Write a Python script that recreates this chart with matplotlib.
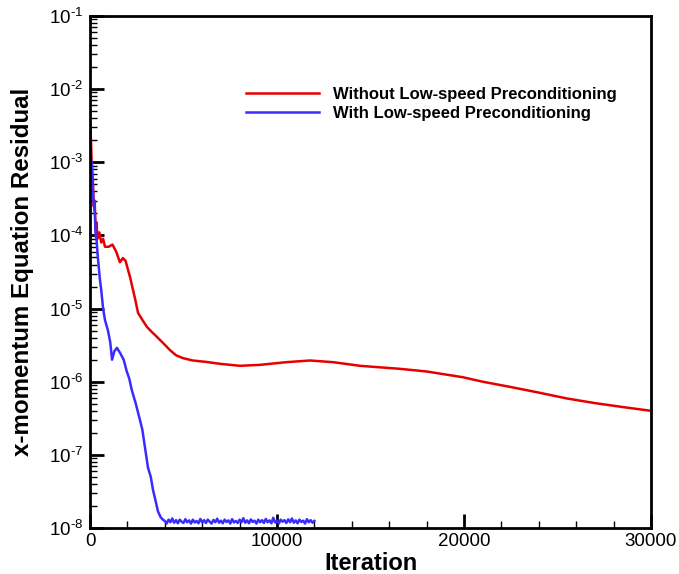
import math
import matplotlib
matplotlib.use("Agg")
import matplotlib.pyplot as plt
from matplotlib.ticker import FixedLocator, LogLocator, NullFormatter, FuncFormatter

plt.rcParams['font.family'] = ['Liberation Sans', 'DejaVu Sans']
plt.rcParams['mathtext.fontset'] = 'custom'
plt.rcParams['mathtext.rm'] = 'Liberation Sans'
plt.rcParams['mathtext.it'] = 'Liberation Sans'
plt.rcParams['mathtext.bf'] = 'Liberation Sans:bold'

# ---- data ----
red_iter = [0, 50, 100, 150, 200, 250, 300, 350, 400, 500, 600, 700, 800, 1000, 1200,
            1400, 1600, 1760, 1900, 2140, 2400, 2570, 2800, 3050, 3300, 3580, 4000,
            4280, 4600, 4970, 5500, 6250, 7000, 8020, 9090, 10500, 11760, 13000,
            14440, 16570, 18000, 19950, 21000, 22460, 24000, 25500, 27000, 28500, 30000]
red_res = [3.8e-3, 2.0e-3, 8.0e-4, 6.0e-4, 2.5e-4, 3.0e-4, 1.2e-4, 1.5e-4, 9.0e-5,
           1.1e-4, 8.0e-5, 9.0e-5, 7.0e-5, 7.0e-5, 7.5e-5, 6.0e-5, 4.3e-5, 4.9e-5,
           4.5e-5, 2.7e-5, 1.4e-5, 8.7e-6, 7.0e-6, 5.6e-6, 4.8e-6, 4.1e-6, 3.2e-6,
           2.7e-6, 2.3e-6, 2.1e-6, 1.95e-6, 1.86e-6, 1.75e-6, 1.65e-6, 1.7e-6,
           1.85e-6, 1.95e-6, 1.85e-6, 1.65e-6, 1.5e-6, 1.38e-6, 1.15e-6, 1.0e-6,
           8.5e-7, 7.1e-7, 5.9e-7, 5.1e-7, 4.5e-7, 4.0e-7]

blue_iter_drop = [0, 100, 180, 260, 300, 350, 420, 530, 600, 700, 800, 960, 1080, 1180,
                  1300, 1440, 1600, 1800, 1960, 2100, 2240, 2450, 2670, 2800, 2940,
                  3100, 3250, 3370, 3500, 3630, 3780, 3900]
blue_res_drop = [9.0e-4, 1.0e-3, 3.0e-4, 2.0e-4, 1.0e-4, 8.7e-5, 5.0e-5, 2.5e-5, 1.8e-5,
                 1.0e-5, 7.0e-6, 5.0e-6, 3.5e-6, 2.0e-6, 2.6e-6, 2.9e-6, 2.5e-6, 2.0e-6,
                 1.4e-6, 1.1e-6, 7.6e-7, 5.0e-7, 3.0e-7, 2.2e-7, 1.26e-7, 6.7e-8, 5.0e-8,
                 3.3e-8, 2.4e-8, 1.7e-8, 1.4e-8, 1.3e-8]
# noise floor, every 100 iterations from 4000 to 12000
blue_floor_start = 4000
blue_floor_step = 100
blue_floor = [1.25e-8, 1.15e-8, 1.3e-8, 1.2e-8, 1.35e-8, 1.18e-8, 1.28e-8, 1.16e-8, 1.3e-8, 1.22e-8,
              1.17e-8, 1.32e-8, 1.2e-8, 1.27e-8, 1.15e-8, 1.3e-8, 1.19e-8, 1.25e-8, 1.16e-8, 1.33e-8,
              1.2e-8, 1.28e-8, 1.17e-8, 1.3e-8, 1.22e-8, 1.15e-8, 1.29e-8, 1.2e-8, 1.34e-8, 1.18e-8,
              1.26e-8, 1.16e-8, 1.3e-8, 1.21e-8, 1.27e-8, 1.15e-8, 1.32e-8, 1.19e-8, 1.25e-8, 1.17e-8,
              1.3e-8, 1.2e-8, 1.36e-8, 1.18e-8, 1.27e-8, 1.16e-8, 1.31e-8, 1.21e-8, 1.26e-8, 1.15e-8,
              1.3e-8, 1.2e-8, 1.28e-8, 1.17e-8, 1.33e-8, 1.2e-8, 1.27e-8, 1.16e-8, 1.38e-8, 1.19e-8,
              1.26e-8, 1.15e-8, 1.3e-8, 1.22e-8, 1.28e-8, 1.17e-8, 1.31e-8, 1.2e-8, 1.35e-8, 1.18e-8,
              1.27e-8, 1.16e-8, 1.3e-8, 1.21e-8, 1.26e-8, 1.15e-8, 1.32e-8, 1.2e-8, 1.28e-8, 1.18e-8,
              1.25e-8]
blue_iter = blue_iter_drop + [blue_floor_start + i * blue_floor_step for i in range(len(blue_floor))]
blue_res = blue_res_drop + blue_floor

labels = ["Without Low-speed Preconditioning", "With Low-speed Preconditioning"]
x_ticks = [0, 10000, 20000, 30000]

# ---- figure ----
fig = plt.figure(figsize=(6.79, 5.74), dpi=100)
ax = fig.add_axes([90/679, 1-528/574, (651-90)/679, (528-16)/574])

ax.semilogy(red_iter, red_res, color='#e60000', lw=1.8, label=labels[0])
ax.semilogy(blue_iter, blue_res, color='#3a2bff', lw=1.8, label=labels[1])

ax.set_xlim(0, 30000)
ax.set_ylim(1e-8, 1e-1)

ax.xaxis.set_major_locator(FixedLocator(x_ticks))
ax.xaxis.set_minor_locator(FixedLocator([v for v in range(0, 30001, 2000) if v % 10000]))
ax.yaxis.set_major_locator(LogLocator(base=10, numticks=20))
ax.yaxis.set_minor_locator(LogLocator(base=10, subs=range(2, 10), numticks=20))
ax.yaxis.set_minor_formatter(NullFormatter())


def ylab(v, p):
    e = round(math.log10(v))
    return r'$\mathregular{10^{\text{-}%d}}$' % abs(e) if e < 0 else r'$\mathregular{10^{%d}}$' % e


ax.yaxis.set_major_formatter(FuncFormatter(ylab))

ax.tick_params(which='both', direction='in', top=False, right=False, labelsize=13.5)
ax.tick_params(which='major', length=10, width=2)
ax.tick_params(which='minor', length=5, width=1)
ax.tick_params(axis='y', pad=5)
for s in ax.spines.values():
    s.set_linewidth(2)

ax.set_xlabel('Iteration', fontsize=17, fontweight='bold')
ax.xaxis.set_label_coords(0.5, -0.047)
ax.set_ylabel('x-momentum Equation Residual', fontsize=17.4, fontweight='bold')
ax.yaxis.set_label_coords(-0.10, 0.5)

leg = ax.legend(loc='upper left', bbox_to_anchor=(0.278, 0.862), frameon=False,
                prop={'weight': 'bold', 'size': 12}, handlelength=4.4, handletextpad=0.85,
                labelspacing=0.27, borderaxespad=0, borderpad=0)
for line in leg.get_lines():
    line.set_linewidth(1.8)

fig.savefig('out.png', dpi=100)
